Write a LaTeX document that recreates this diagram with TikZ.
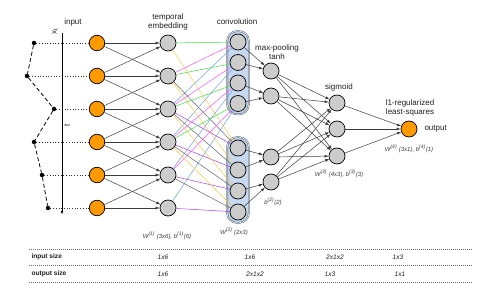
\documentclass[tikz,border=0pt]{standalone}
\usepackage{fontspec}
\setmainfont{Liberation Sans}
\usetikzlibrary{
  arrows.meta,
  positioning,
  fit,
  backgrounds
}
\definecolor{inputcolor}{RGB}{255, 153, 0}
\definecolor{neuroncolor}{RGB}{204, 204, 204}
\definecolor{groupcolor}{RGB}{198, 217, 241}
\definecolor{linkcolor}{RGB}{60, 60, 60}
\definecolor{labelcolor}{RGB}{30, 30, 30}
\definecolor{sublabelcolor}{RGB}{60, 60, 60}
\definecolor{wgreen}{RGB}{60, 230, 60}
\definecolor{wmagenta}{RGB}{255, 80, 255}
\definecolor{wblue}{RGB}{110, 160, 240}
\definecolor{wyellow}{RGB}{255, 200, 70}
\definecolor{wgray}{RGB}{100, 100, 100}
\definecolor{wpurple}{RGB}{170, 60, 240}
\definecolor{rulecolor}{RGB}{110, 110, 110}
\tikzset{
inputnode/.style={
  circle,
  draw=black,
  line width=0.7pt,
  fill=inputcolor,
  minimum size=15.5pt,
  inner sep=0pt
},
neuron/.style={
  circle,
  draw=black,
  line width=0.7pt,
  fill=neuroncolor,
  minimum size=16pt,
  inner sep=0pt
},
convgroup/.style={
  rectangle,
  rounded corners=10pt,
  draw=black!70,
  line width=0.4pt,
  double=groupcolor!80,
  double distance=0.9pt,
  fill=groupcolor,
  inner sep=2.5pt
},
layerlabel/.style={
  font=\fontsize{8}{9.5}\selectfont,
  text=labelcolor,
  align=center
},
weightlabel/.style={
  font=\fontsize{6}{7}\selectfont\itshape,
  text=sublabelcolor,
  align=center
},
tablehead/.style={
  font=\fontsize{6.6}{8}\selectfont\bfseries,
  text=labelcolor,
  anchor=west
},
tablecell/.style={
  font=\fontsize{6.6}{8}\selectfont\itshape,
  text=labelcolor
},
tablerule/.style={
  draw=rulecolor,
  dashed,
  dash pattern=on 1.2pt off 0.8pt,
  line width=0.5pt
},
arrow/.style={
  -{Latex[length=4pt,width=3pt]},
  line width=0.5pt,
  draw=linkcolor
}
}
\begin{document}
\begin{tikzpicture}[
    x=1pt, y=-1pt,
    % styles of the picture
    sampledot/.style={
        circle,
        fill=black,
        minimum size=4.5pt,
        inner sep=0pt
    },
    seriesline/.style={dashed, dash pattern=on 4pt off 2.5pt, line width=0.8pt, draw=black},
    sampleline/.style={dotted, line width=0.7pt, draw=black!80},
    timeaxis/.style={-{Latex[length=4pt,width=2.5pt]}, line width=0.9pt, draw=black},
    weightline/.style={line width=0.5pt}
]
\useasboundingbox (0,0) rectangle (479,291);

% ============================================================================
% Input series and input layer
% ============================================================================
\foreach \i/\y in {1/43, 2/76, 3/109, 4/142, 5/175, 6/208} {
    \node[inputnode] (in\i) at (97,\y) {};
    \node[neuron] (emb\i) at (168,\y) {};
}
\node[sampledot] (s1) at (34,43) {};
\node[sampledot] (s2) at (27,76) {};
\node[sampledot] (s3) at (54,109) {};
\node[sampledot] (s4) at (34,142) {};
\node[sampledot] (s5) at (42,175) {};
\node[sampledot] (s6) at (48,208) {};
\draw[seriesline] (s1) -- (s2) -- (s3) -- (s4) -- (s5) -- (s6);
\foreach \i in {1,...,6} {
    \draw[sampleline] (s\i) -- (in\i.west);
}

% ============================================================================
% Time axis
% ============================================================================
\coordinate (ttop) at (62,33);
\coordinate (tbot) at (62,215);
\draw[timeaxis] (ttop) -- (tbot);
\node[layerlabel, rotate=90] (xlab) at (55,31) {x\textsubscript{t}};
\node[layerlabel, rotate=90] (tlab) at (67,125) {t};

% ============================================================================
% Convolution, max-pooling, sigmoid, output
% ============================================================================
\foreach \k/\y in {1/42, 2/62.5, 3/83, 4/103.5} {
    \node[neuron] (ct\k) at (238,\y) {};
}
\foreach \k/\y in {1/148, 2/170, 3/191, 4/212} {
    \node[neuron] (cb\k) at (238,\y) {};
}
\begin{scope}[on background layer]
    \node[convgroup, fit=(ct1)(ct4)] (convtop) {};
    \node[convgroup, fit=(cb1)(cb4)] (convbot) {};
\end{scope}

\node[neuron] (mp1) at (271,71) {};
\node[neuron] (mp2) at (271,96) {};
\node[neuron] (mp3) at (271,157) {};
\node[neuron] (mp4) at (271,182) {};

\node[neuron] (sig1) at (337,103) {};
\node[neuron] (sig2) at (337,129) {};
\node[neuron] (sig3) at (337,156) {};

\node[inputnode, minimum size=16pt] (out) at (409,129) {};

% ============================================================================
% Input -> temporal embedding
% ============================================================================
\foreach \i in {1,...,6} {
    \draw[arrow] (in\i) -- (emb\i);
}
\foreach \i [evaluate=\i as \j using int(\i+1)] in {1,...,5} {
    \draw[arrow] (in\i) -- (emb\j);
    \draw[arrow] (in\j) -- (emb\i);
}

% ============================================================================
% Temporal embedding -> convolution (shared weights)
% ============================================================================
\foreach \k [evaluate=\k as \a using int(\k+1), evaluate=\k as \b using int(\k+2)] in {1,...,4} {
    \draw[weightline, wgreen] (emb\k) -- (ct\k);
    \draw[weightline, wmagenta] (emb\a) -- (ct\k);
    \draw[weightline, wblue] (emb\b) -- (ct\k);
    \draw[weightline, wyellow] (emb\k) -- (cb\k);
    \draw[weightline, wgray] (emb\a) -- (cb\k);
    \draw[weightline, wpurple] (emb\b) -- (cb\k);
}

% ============================================================================
% Convolution -> max-pooling -> sigmoid -> output
% ============================================================================
\draw[arrow] (ct1) -- (mp1);
\draw[arrow] (ct2) -- (mp1);
\draw[arrow] (ct3) -- (mp2);
\draw[arrow] (ct4) -- (mp2);
\draw[arrow] (cb1) -- (mp3);
\draw[arrow] (cb2) -- (mp3);
\draw[arrow] (cb3) -- (mp4);
\draw[arrow] (cb4) -- (mp4);
\foreach \m in {1,...,4} {
    \foreach \s in {1,2,3} {
        \draw[arrow] (mp\m) -- (sig\s);
    }
}
\foreach \s in {1,2,3} {
    \draw[arrow] (sig\s) -- (out);
}

% ============================================================================
% Layer labels
% ============================================================================
\node[layerlabel] (inputlab) at (73,22) {input};
\node[layerlabel] (emblab) at (168,22) {temporal\\embedding};
\node[layerlabel] (convlab) at (237,22) {convolution};
\node[layerlabel] (mplab) at (277,52) {max-pooling\\tanh};
\node[layerlabel] (siglab) at (339,87) {sigmoid};
\node[layerlabel] (l1lab) at (410,108) {l1-regularized\\least-squares};
\node[layerlabel, anchor=west] (outlab) at (421,129) {output};

% ============================================================================
% Weights
% ============================================================================
\node[weightlabel] (w1) at (167,236) {W\textsuperscript{(1)} (3x6), b\textsuperscript{(1)}(6)};
\node[weightlabel] (w2) at (234,232) {W\textsuperscript{(2)} (2x3)};
\node[weightlabel] (b2) at (273,202) {b\textsuperscript{(2)}(2)};
\node[weightlabel] (w3) at (339,174) {W\textsuperscript{(3)} (4x3), b\textsuperscript{(3)}(3)};
\node[weightlabel] (w4) at (409,149) {W\textsuperscript{(4)} (3x1), b\textsuperscript{(4)}(1)};

% ============================================================================
% Size table
% ============================================================================
\draw[tablerule] (29,249) -- (472,249);
\draw[tablerule] (29,265.5) -- (472,265.5);
\draw[tablerule] (29,282) -- (472,282);
\node[tablehead] (inhead) at (28,257) {input size};
\node[tablehead] (outhead) at (28,274) {output size};
\node[tablecell] (in1x6a) at (163,257) {1x6};
\node[tablecell] (in1x6b) at (250,257) {1x6};
\node[tablecell] (in2x1x2) at (335,257) {2x1x2};
\node[tablecell] (in1x3) at (398,257) {1x3};
\node[tablecell] (out1x6) at (163,274) {1x6};
\node[tablecell] (out2x1x2) at (255,274) {2x1x2};
\node[tablecell] (out1x3) at (330,274) {1x3};
\node[tablecell] (out1x1) at (400,274) {1x1};

\end{tikzpicture}
\end{document}
